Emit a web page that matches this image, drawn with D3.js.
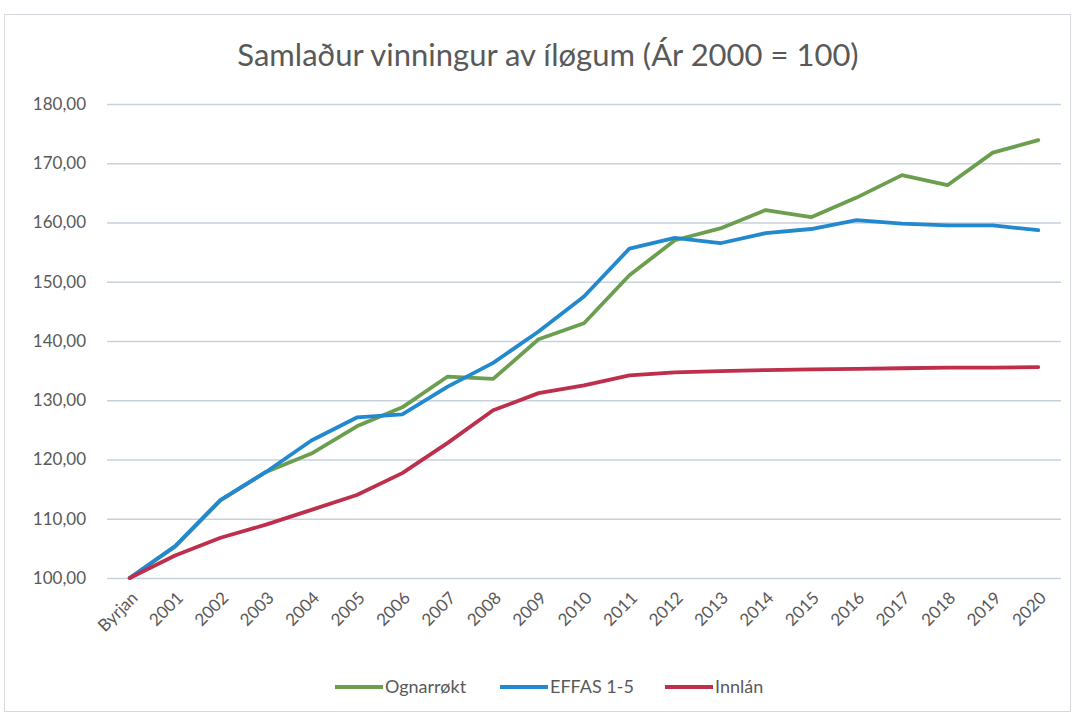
<!DOCTYPE html>
<html>
<head>
<meta charset="utf-8">
<script src="https://cdn.jsdelivr.net/npm/d3@7"></script>
<style>
    body { margin: 0; background: #fff; }
    svg { display: block; font-family: Lato, "Noto Sans", sans-serif; }
</style>
</head>
<body>
<svg id="chart" width="1076" height="715"></svg>
<script>
// categories (x axis)
const years = ["Byrjan", "2001", "2002", "2003", "2004", "2005", "2006", "2007", "2008", "2009", "2010",
    "2011", "2012", "2013", "2014", "2015", "2016", "2017", "2018", "2019", "2020"];

// series values
const ognarrokt = [100, 105.3, 113.1, 117.9, 121.0, 125.6, 128.8, 134.0, 133.6, 140.3, 143.0,
    151.1, 157.0, 159.0, 162.1, 160.9, 164.2, 168.0, 166.3, 171.8, 173.9];
const effas = [100, 105.4, 113.2, 117.9, 123.2, 127.1, 127.6, 132.3, 136.3, 141.6, 147.5,
    155.6, 157.4, 156.5, 158.2, 158.9, 160.4, 159.8, 159.5, 159.5, 158.7];
const innlan = [100, 103.8, 106.8, 109.0, 111.5, 114.0, 117.7, 122.8, 128.3, 131.2, 132.5,
    134.2, 134.7, 134.9, 135.1, 135.2, 135.3, 135.4, 135.5, 135.5, 135.6];

const yTicks = [100, 110, 120, 130, 140, 150, 160, 170, 180];

const series = [
    { name: "Ognarrøkt", values: ognarrokt, color: "#6b9e4f" },
    { name: "EFFAS 1-5", values: effas, color: "#2389cf" },
    { name: "Innlán", values: innlan, color: "#bd2f4b" }
];

const svg = d3.select("#chart");
const W = 1076, H = 715;
const m = { left: 107, right: 1061, top: 104, bottom: 578 };

// outer frame
svg.append("rect")
    .attr("x", 4.5).attr("y", 14.5)
    .attr("width", W - 10).attr("height", H - 18)
    .attr("fill", "#fff")
    .attr("stroke", "#d4d9e0");

const x = d3.scaleBand().domain(years).range([m.left, m.right]);
const xc = d => x(d) + x.bandwidth() / 2;
const y = d3.scaleLinear().domain([100, 180]).range([m.bottom, m.top]);

// title
svg.append("text")
    .attr("x", 548).attr("y", 66)
    .attr("text-anchor", "middle")
    .attr("font-size", 31)
    .attr("fill", "#595959")
    .text("Samlaður vinningur av íløgum (Ár 2000 = 100)");

// y grid + labels
const yAxis = d3.axisLeft(y)
    .tickValues(yTicks)
    .tickSize(-(m.right - m.left))
    .tickPadding(21)
    .tickFormat(d => d3.format(".2f")(d).replace(".", ","));

const gy = svg.append("g")
    .attr("transform", `translate(${m.left},0)`)
    .call(yAxis);
gy.select(".domain").remove();
gy.selectAll(".tick line").attr("stroke", "#c9d1dd").attr("stroke-width", 1.5);
gy.selectAll(".tick text")
    .attr("fill", "#595959")
    .attr("font-size", 17)
    .attr("font-family", "Lato, sans-serif");

// x labels
const xAxis = d3.axisBottom(x).tickSize(0).tickPadding(0);
const gx = svg.append("g")
    .attr("transform", `translate(0,${m.bottom})`)
    .call(xAxis);
gx.select(".domain").remove();
gx.selectAll(".tick text")
    .attr("fill", "#595959")
    .attr("font-size", 17)
    .attr("font-family", "Lato, sans-serif")
    .attr("text-anchor", "end")
    .attr("dy", 0)
    .attr("transform", "translate(9,21) rotate(-45)");

// lines
const line = d3.line()
    .x((d, i) => xc(years[i]))
    .y(d => y(d));

svg.append("g")
    .selectAll("path")
    .data(series)
    .join("path")
    .attr("d", d => line(d.values))
    .attr("fill", "none")
    .attr("stroke", d => d.color)
    .attr("stroke-width", 3.8)
    .attr("stroke-linejoin", "round")
    .attr("stroke-linecap", "round");

// legend
const legendX = [335, 500, 665];
const lg = svg.append("g")
    .selectAll("g")
    .data(series)
    .join("g")
    .attr("transform", (d, i) => `translate(${legendX[i]},687)`);
lg.append("line")
    .attr("x1", 0).attr("x2", 48)
    .attr("stroke", d => d.color)
    .attr("stroke-width", 3.8);
lg.append("text")
    .attr("x", 50).attr("y", 6)
    .attr("font-size", 18)
    .attr("fill", "#595959")
    .text(d => d.name);
</script>
</body>
</html>
